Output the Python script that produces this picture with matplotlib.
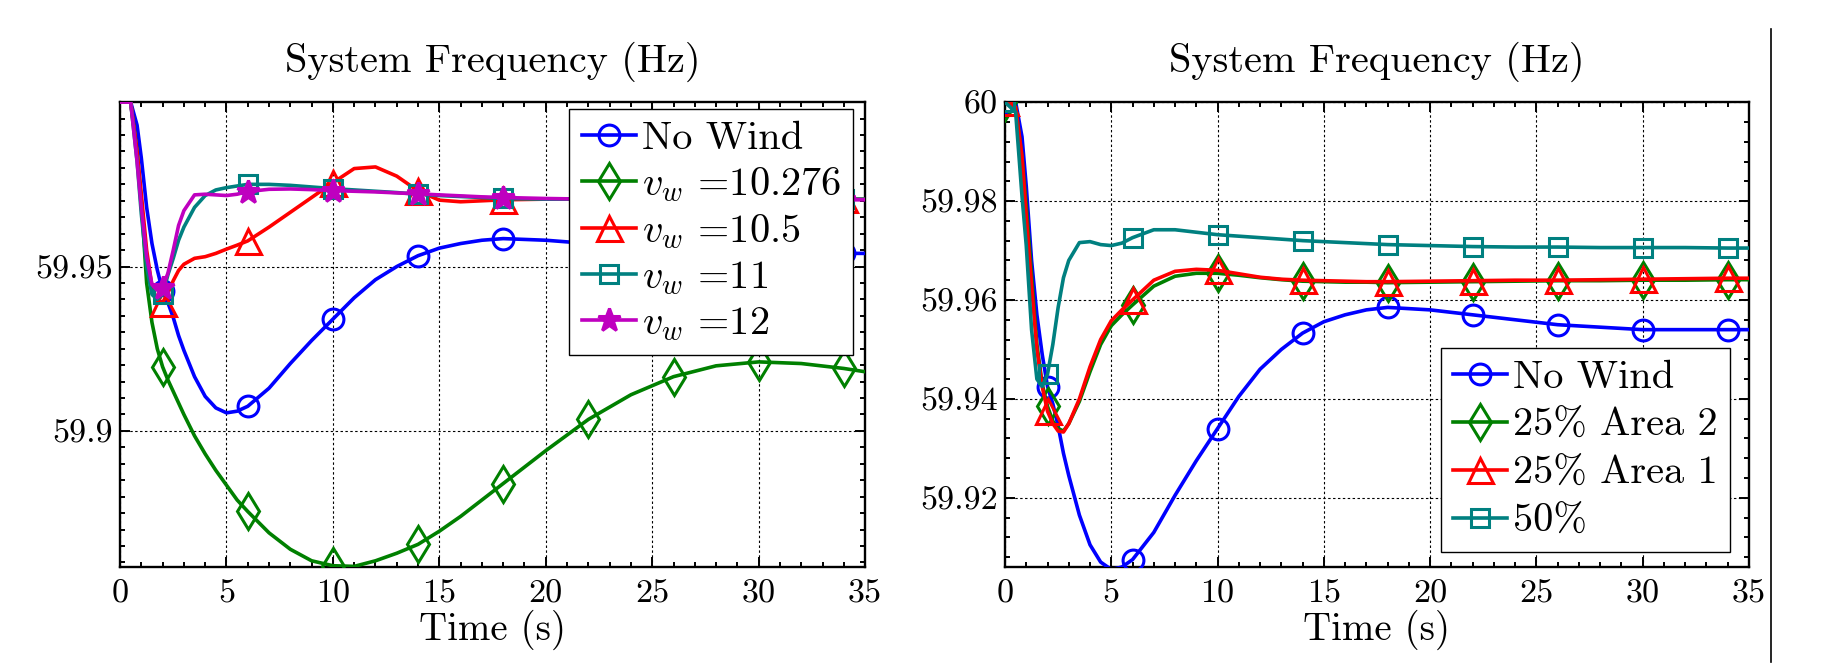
import numpy as np
import matplotlib
matplotlib.use('Agg')
import matplotlib.pyplot as plt
from matplotlib.lines import Line2D
from matplotlib.ticker import MultipleLocator, FixedLocator, FuncFormatter

plt.rcParams['font.family'] = 'serif'
plt.rcParams['font.serif'] = ['cmr10']
plt.rcParams['mathtext.fontset'] = 'cm'
plt.rcParams['axes.unicode_minus'] = False

# time grid (s) shared by every curve
t = [0, 0.5, 0.8, 1.0, 1.25, 1.5, 1.75, 2, 2.25, 2.5, 2.75, 3, 3.5, 4, 4.5, 5, 5.5, 6,
     7, 8, 9, 10, 11, 12, 13, 14, 15, 16, 17, 18, 20, 22, 24, 26, 28, 30, 32, 34, 35]

# no wind (same in both panels)
f_nowind = [60, 60, 59.993, 59.983, 59.968, 59.957, 59.949, 59.9425, 59.939, 59.9345, 59.929,
            59.9245, 59.9165, 59.9105, 59.907, 59.9055, 59.906, 59.9075, 59.913, 59.9205,
            59.9275, 59.934, 59.9405, 59.946, 59.950, 59.9533, 59.9556, 59.957, 59.958,
            59.9585, 59.958, 59.957, 59.956, 59.955, 59.9545, 59.954, 59.954, 59.954, 59.954]

# left panel: wind speed cases
f_v10276 = [60, 60, 59.985, 59.97, 59.945, 59.933, 59.925, 59.9195, 59.9155, 59.912, 59.9085,
            59.905, 59.8985, 59.893, 59.888, 59.8835, 59.879, 59.8755, 59.869, 59.864, 59.8605,
            59.859, 59.8588, 59.8605, 59.8628, 59.8655, 59.8695, 59.874, 59.879, 59.884,
            59.894, 59.9035, 59.911, 59.9165, 59.9198, 59.921, 59.9205, 59.919, 59.918]
f_v105 = [60, 60, 59.985, 59.972, 59.955, 59.944, 59.9395, 59.939, 59.942, 59.9457, 59.9488,
          59.9507, 59.9525, 59.953, 59.954, 59.9553, 59.9565, 59.9578, 59.962, 59.9665, 59.971,
          59.9755, 59.9798, 59.9803, 59.9775, 59.973, 59.9702, 59.9697, 59.970, 59.9703,
          59.9705, 59.9705, 59.9705, 59.9705, 59.9705, 59.9705, 59.9705, 59.9705, 59.9705]
f_v11 = [60, 60, 59.982, 59.966, 59.950, 59.9415, 59.940, 59.9415, 59.9475, 59.9525, 59.958,
         59.962, 59.968, 59.9716, 59.9733, 59.974, 59.9745, 59.975, 59.975, 59.9747, 59.9742,
         59.9737, 59.9733, 59.9729, 59.9725, 59.972, 59.9716, 59.9713, 59.971, 59.9707,
         59.9705, 59.9705, 59.9705, 59.9705, 59.9705, 59.9705, 59.9705, 59.9705, 59.9705]
f_v12 = [60, 60, 59.982, 59.968, 59.953, 59.9445, 59.9428, 59.9436, 59.948, 59.955, 59.9625,
         59.967, 59.9718, 59.972, 59.9718, 59.9716, 59.972, 59.9728, 59.9735, 59.9736, 59.9734,
         59.9731, 59.9729, 59.9727, 59.9724, 59.9721, 59.9718, 59.9715, 59.9712, 59.971,
         59.9707, 59.9705, 59.9705, 59.9705, 59.9705, 59.9704, 59.9704, 59.9703, 59.9703]

# right panel: wind penetration cases
f_area2 = [60, 59.999, 59.989, 59.979, 59.965, 59.951, 59.943, 59.9385, 59.9355, 59.934, 59.9335,
           59.935, 59.9395, 59.9455, 59.951, 59.9548, 59.957, 59.959, 59.9628, 59.9648, 59.9654,
           59.9654, 59.965, 59.9645, 59.9641, 59.9638, 59.9637, 59.9636, 59.9636, 59.9635,
           59.9636, 59.9637, 59.9638, 59.9639, 59.9639, 59.964, 59.964, 59.9641, 59.9641]
f_area1 = [60, 59.999, 59.989, 59.977, 59.963, 59.950, 59.9425, 59.9375, 59.935, 59.9335, 59.9333,
           59.935, 59.940, 59.9465, 59.952, 59.9558, 59.958, 59.960, 59.964, 59.9658, 59.9662,
           59.966, 59.9653, 59.9646, 59.9642, 59.964, 59.9639, 59.9638, 59.9637, 59.9637,
           59.9638, 59.9639, 59.964, 59.964, 59.9641, 59.9642, 59.9643, 59.9644, 59.9644]
f_50 = [60, 59.998, 59.981, 59.971, 59.954, 59.944, 59.9425, 59.945, 59.951, 59.9585, 59.9645,
        59.968, 59.9716, 59.9718, 59.9712, 59.971, 59.9715, 59.9726, 59.9742, 59.9742, 59.9737,
        59.9732, 59.9729, 59.9726, 59.9723, 59.972, 59.9718, 59.9716, 59.9714, 59.9712,
        59.971, 59.9708, 59.9707, 59.9707, 59.9706, 59.9706, 59.9706, 59.9705, 59.9705]

marks_left = [2, 6, 10, 14, 18, 22, 26, 30, 34]
marks_right = [0, 2, 6, 10, 14, 18, 22, 26, 30, 34]

left_series = [
    ('No Wind', f_nowind, (0, 0, 1), 'o', 15),
    (r'$v_w$ =10.276', f_v10276, (0, 0.5, 0), 'd', 18),
    (r'$v_w$ =10.5', f_v105, (1, 0, 0), '^', 18),
    (r'$v_w$ =11', f_v11, (0, 0.5, 0.5), 's', 13.5),
    (r'$v_w$ =12', f_v12, (0.75, 0, 0.75), '*', 17),
]
right_series = [
    ('No Wind', f_nowind, (0, 0, 1), 'o', 15),
    ('25% Area 2', f_area2, (0, 0.5, 0), 'd', 18),
    ('25% Area 1', f_area1, (1, 0, 0), '^', 18),
    ('50%', f_50, (0, 0.5, 0.5), 's', 13.5),
]


def draw(ax, series, marks, ylim, yticks, yminor):
    tt = np.array(t)
    idx = list(np.where(np.isin(tt, marks))[0])
    handles = []
    for label, vals, col, mk, ms in series:
        filled = mk == '*'
        ax.plot(tt, vals, color=col, lw=2.6, marker=mk, markevery=idx, ms=ms,
                mfc=col if filled else 'none', mec=col, mew=2.2, zorder=3)
        handles.append(Line2D([], [], color=col, lw=2.6, marker=mk, ms=ms,
                              mfc=col if filled else 'none', mec=col, mew=2.2, label=label))
    ax.set_xlim(0, 35)
    ax.set_ylim(*ylim)
    ax.xaxis.set_major_locator(MultipleLocator(5))
    ax.xaxis.set_minor_locator(MultipleLocator(1))
    ax.yaxis.set_major_locator(FixedLocator(yticks))
    ax.yaxis.set_minor_locator(MultipleLocator(yminor))
    ax.yaxis.set_major_formatter(FuncFormatter(lambda v, p: '%g' % round(v, 4)))
    ax.tick_params(which='both', direction='in', top=True, right=True, width=1.4)
    ax.tick_params(which='major', length=7.5)
    ax.tick_params(which='minor', length=3.8)
    ax.tick_params(axis='x', labelsize=24.5, pad=9)
    ax.tick_params(axis='y', labelsize=24.5, pad=5)
    ax.grid(True, which='major', color='k', linestyle=(0, (2.2, 2.2)), linewidth=0.8)
    ax.set_axisbelow(True)
    for s in ax.spines.values():
        s.set_linewidth(1.7)
    ax.set_title('System Frequency (Hz)', fontsize=29, pad=22)
    ax.set_xlabel('Time (s)', fontsize=28, labelpad=1)
    return handles


fig = plt.figure(figsize=(18.41, 6.66), dpi=100)
ax1 = fig.add_axes([0.0652, 0.1486, 0.4047, 0.698])
ax2 = fig.add_axes([0.5459, 0.1486, 0.4041, 0.698])

h1 = draw(ax1, left_series, marks_left, (59.8586, 60.0), [59.9, 59.95], 0.005)
h2 = draw(ax2, right_series, marks_right, (59.906, 60.0), [59.92, 59.94, 59.96, 59.98, 60.0], 0.004)

leg_kw = dict(fontsize=29, frameon=True, fancybox=False, framealpha=1, edgecolor='k',
              borderpad=0.3, handlelength=1.35, handletextpad=0.15, borderaxespad=0)
l1 = ax1.legend(handles=h1, loc='upper right', bbox_to_anchor=(0.984, 0.985),
                labelspacing=0.2, **leg_kw)
l2 = ax2.legend(handles=h2, loc='lower right', bbox_to_anchor=(0.9745, 0.032),
                labelspacing=0.29, **leg_kw)
for lg in (l1, l2):
    lg.get_frame().set_linewidth(1.0)

# thin vertical rule at the right edge of the page
fig.add_artist(Line2D([0.962, 0.962], [0.006, 0.956], transform=fig.transFigure,
                      color='k', lw=1.2))

fig.savefig('out.png', dpi=100, facecolor='white')
